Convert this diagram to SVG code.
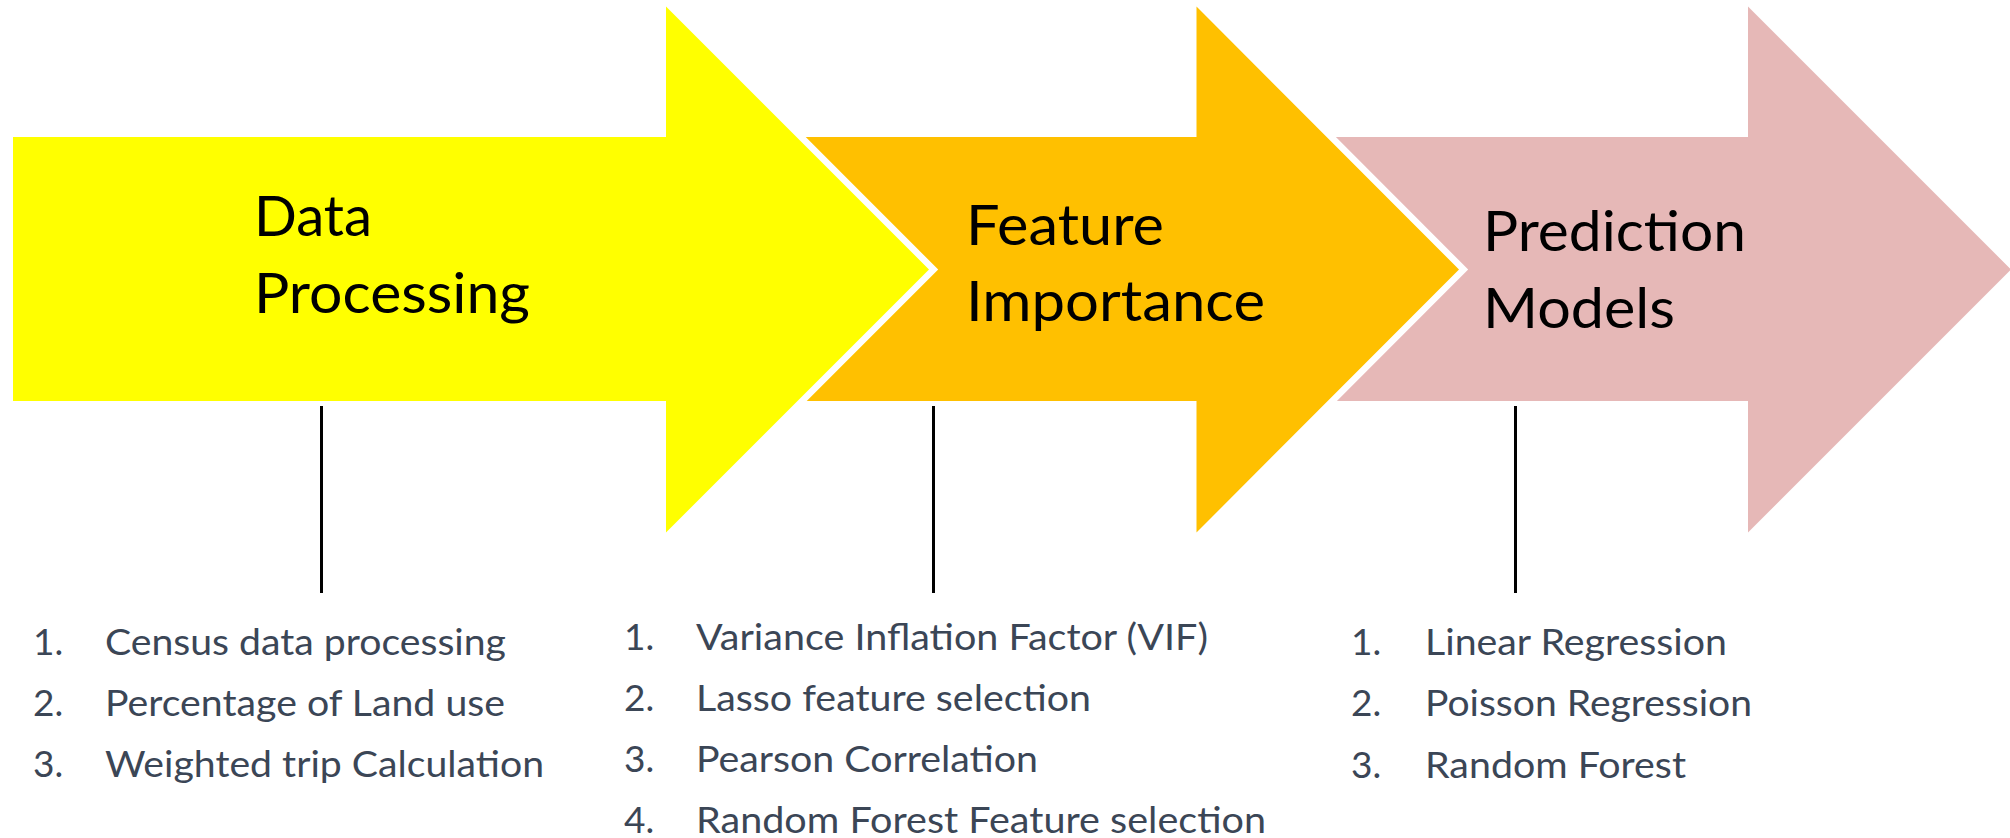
<svg xmlns="http://www.w3.org/2000/svg" width="2010" height="838" viewBox="0 0 2010 838">
<style>
.title{font-family:Lato,"Open Sans","Liberation Sans",sans-serif;font-size:56px;fill:#000;}
.item{font-family:Lato,"Open Sans","Liberation Sans",sans-serif;font-size:37px;fill:#3B4656;}
.gap{fill:#fff;stroke:#fff;stroke-width:13;stroke-linejoin:miter;stroke-miterlimit:10;}
.stem{stroke:#000;stroke-width:3;fill:none;}
</style>
<rect width="2010" height="838" fill="#fff"/>
<g id="node-prediction">
<polygon points="1320,137 1748,137 1748,6.5 2011,269.5 1748,532.5 1748,401 1320,401" fill="#E6B8B7"/>
</g>
<g id="node-feature">
<polygon class="gap" points="790,137 1196.5,137 1196.5,6.5 1459,269.5 1196.5,532.5 1196.5,401 790,401"/>
<polygon points="790,137 1196.5,137 1196.5,6.5 1459,269.5 1196.5,532.5 1196.5,401 790,401" fill="#FFC000"/>
</g>
<g id="node-data">
<polygon class="gap" points="13,137 666,137 666,6.5 929,269.5 666,532.5 666,401 13,401"/>
<polygon points="13,137 666,137 666,6.5 929,269.5 666,532.5 666,401 13,401" fill="#FFFF00"/>
</g>
<g id="labels-titles">
<text class="title" x="254" y="236" textLength="118" lengthAdjust="spacingAndGlyphs">Data</text>
<text class="title" x="254" y="313" textLength="276" lengthAdjust="spacingAndGlyphs">Processing</text>
<text class="title" x="966" y="244.5" textLength="198" lengthAdjust="spacingAndGlyphs">Feature</text>
<text class="title" x="966" y="321" textLength="299" lengthAdjust="spacingAndGlyphs">Importance</text>
<text class="title" x="1483" y="251" textLength="263" lengthAdjust="spacingAndGlyphs">Prediction</text>
<text class="title" x="1483" y="328" textLength="192" lengthAdjust="spacingAndGlyphs">Models</text>
</g>
<g id="connectors">
<line class="stem" x1="321.5" y1="406" x2="321.5" y2="593"/>
<line class="stem" x1="933.5" y1="406" x2="933.5" y2="593"/>
<line class="stem" x1="1515.5" y1="406" x2="1515.5" y2="593"/>
</g>
<g id="list-data">
<text class="item" x="33" y="655">1.</text>
<text class="item" x="105" y="655" textLength="401" lengthAdjust="spacingAndGlyphs">Census data processing</text>
<text class="item" x="33" y="716">2.</text>
<text class="item" x="105" y="716" textLength="400" lengthAdjust="spacingAndGlyphs">Percentage of Land use</text>
<text class="item" x="33" y="777">3.</text>
<text class="item" x="105" y="777" textLength="439" lengthAdjust="spacingAndGlyphs">Weighted trip Calculation</text>
</g>
<g id="list-feature">
<text class="item" x="624" y="650">1.</text>
<text class="item" x="696" y="650" textLength="512" lengthAdjust="spacingAndGlyphs">Variance Inflation Factor (VIF)</text>
<text class="item" x="624" y="711">2.</text>
<text class="item" x="696" y="711" textLength="395" lengthAdjust="spacingAndGlyphs">Lasso feature selection</text>
<text class="item" x="624" y="772">3.</text>
<text class="item" x="696" y="772" textLength="342" lengthAdjust="spacingAndGlyphs">Pearson Correlation</text>
<text class="item" x="624" y="833">4.</text>
<text class="item" x="696" y="833" textLength="570" lengthAdjust="spacingAndGlyphs">Random Forest Feature selection</text>
</g>
<g id="list-prediction">
<text class="item" x="1351" y="655">1.</text>
<text class="item" x="1425" y="655" textLength="302" lengthAdjust="spacingAndGlyphs">Linear Regression</text>
<text class="item" x="1351" y="716">2.</text>
<text class="item" x="1425" y="716" textLength="327" lengthAdjust="spacingAndGlyphs">Poisson Regression</text>
<text class="item" x="1351" y="778">3.</text>
<text class="item" x="1425" y="778" textLength="261" lengthAdjust="spacingAndGlyphs">Random Forest</text>
</g>
</svg>
